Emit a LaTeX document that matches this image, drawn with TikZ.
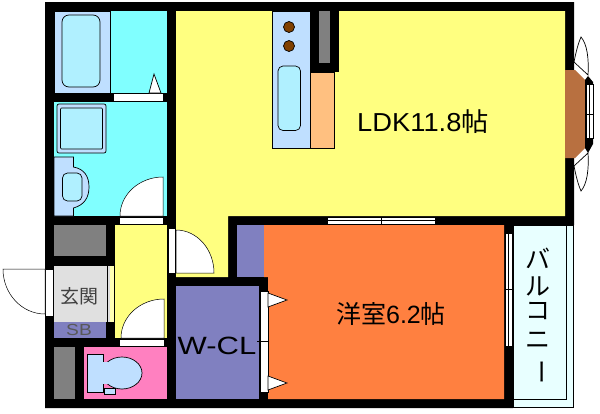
\documentclass[tikz,border=0pt]{standalone}
\usepackage{fontspec}
\setmainfont{Liberation Sans}
\newfontfamily\cjk{Noto Sans CJK JP}
\definecolor{wet}{HTML}{80FFFF}
\definecolor{fix}{HTML}{BFDFFF}
\definecolor{basin}{HTML}{B0F0FF}
\definecolor{ldk}{HTML}{FFFF80}
\definecolor{plum}{HTML}{8080C0}
\definecolor{west}{HTML}{FF8040}
\definecolor{rest}{HTML}{FF80C0}
\definecolor{hall}{HTML}{E0E0E0}
\definecolor{cab}{HTML}{808080}
\definecolor{counter}{HTML}{FFC080}
\definecolor{bay}{HTML}{B87040}
\definecolor{balc}{HTML}{E8FFFF}
\definecolor{burner}{HTML}{804000}
\tikzset{
  x=1pt,y=-1pt,
  thin line/.style={draw=black,line width=0.7pt},
  fixture/.style={fill=#1,draw=black,line width=0.7pt},
  opening/.style={fill=white,draw=black,line width=0.5pt},
  label/.style={inner sep=0pt,text=black},
  kana/.style={label,font=\fontsize{25}{25}\selectfont\cjk}
}
\begin{document}
\begin{tikzpicture}
\useasboundingbox (0,0) rectangle (600,413);
\fill[white] (0,0) rectangle (600,413);
% balcony
\path[fixture=balc] (513,225) rectangle (573,407);
\draw[thin line] (513,399) -- (566,399) -- (566,225);
% walls
\fill[black] (45,2) -| (574,225) -- (513,225) -- (513,408) -- (45,408) -- cycle;
% rooms
\fill[wet] (54,11) rectangle (167,93);
\fill[wet] (54,102) rectangle (167,216);
\fill[ldk] (176,11) -- (565,11) -- (565,216) -- (228,216) -- (228,277) -- (176,277) -- cycle;
\fill[ldk] (115,225) rectangle (167,338);
\fill[plum] (237,225) rectangle (264,277);
\fill[west] (264,225) -- (504,225) -- (504,399) -- (268,399) -- (268,277) -- (264,277) -- cycle;
\fill[plum] (176,286) rectangle (259,399);
\fill[cab] (54,225) rectangle (106,256);
\fill[hall] (54,266) rectangle (110,322);
\fill[ldk!60!white] (110,266) rectangle (114,322);
\draw[line width=0.7pt] (107,266) -- (107,322);
\fill[plum] (54,322) rectangle (106,338);
\fill[cab] (54,347) rectangle (75,399);
\fill[rest] (84,347) rectangle (167,399);
% bath
\path[fixture=fix] (54,11) rectangle (110,93);
\path[fixture=basin,rounded corners=7pt] (62,15) rectangle (100,87);
\fill[white] (114,94) rectangle (163,101);
\path[fixture=white] (149,93) -- (154,74) -- (161,93) -- cycle;
% washroom
\path[fixture=fix,rounded corners=2pt] (57,104) rectangle (106,153);
\path[fixture=basin,rounded corners=1pt] (60.5,108) rectangle (102.5,149);
\path[fixture=fix] (54,157) -- (73.5,157) -- (73.5,167) .. controls (84,169) and (89,176) .. (89,187) .. controls (89,198) and (84,205) .. (73.5,208) -- (73.5,216) -- (54,216) -- cycle;
\path[fixture=basin,rounded corners=5pt] (62.5,173) rectangle (82,201);
\path[opening] (163,216) -- (120,216) arc[start angle=180,end angle=90,x radius=43,y radius=-39] -- cycle;
\path[opening] (119,217) rectangle (163,224);
% LDK door
\path[opening] (168,228) rectangle (175,273);
\path[opening] (176,273) -- (176,230) arc[start angle=90,end angle=0,x radius=38,y radius=-43] -- cycle;
% entrance door
\path[opening] (45.5,269) rectangle (53,316);
\path[opening] (45,269) -- (3,269) arc[start angle=180,end angle=270,x radius=42,y radius=-45] -- cycle;
% toilet door
\path[opening] (121,338) arc[start angle=180,end angle=90,x radius=43,y radius=-39] -- (164,338) -- cycle;
\path[opening] (119,339) rectangle (164,346);
% toilet
\path[fixture=fix] (122,373) ellipse[x radius=20,y radius=16];
\path[fixture=fix] (87.5,354.5) rectangle (103.5,392.5);
\fill[fix] (102,362) rectangle (108,384);
\path[fixture=fix] (104.5,388) rectangle (115.5,394.5);
% W-CL doors
\path[opening] (260,291) rectangle (268,392);
\draw[line width=0.6pt] (257,341.5) -- (268,341.5);
\path[fixture=white] (268,293) -- (287,300) -- (268,307) -- cycle;
\path[fixture=white] (268,376) -- (287,383) -- (268,390) -- cycle;
% kitchen
\path[fixture=fix] (272.5,11) rectangle (310,148);
\path[fixture=counter] (310,72) rectangle (334.5,148);
\fill[black] (310,11) rectangle (339,71.5);
\fill[cab] (319,11) rectangle (330,63);
\path[fixture=burner] (289,27) circle[radius=5.5];
\path[fixture=burner] (289,46) circle[radius=5.5];
\path[fixture=basin,rounded corners=5pt] (278,66) rectangle (300.5,130.5);
% sliding windows
\path[opening] (327,217) rectangle (435,224);
\draw[line width=0.6pt] (327,220.5) -- (435,220.5);
\draw[line width=0.6pt] (381,217) -- (381,224);
\path[opening] (505,233) rectangle (512,346);
\draw[line width=0.6pt] (508.5,233) -- (508.5,346);
\draw[line width=0.6pt] (505,289) -- (512,289);
% bay window
\fill[bay] (565,70) -- (575,70) -- (585,80) -- (585,148) -- (575,158) -- (565,158) -- cycle;
\fill[black] (585,80) -- (588,76) -- (593,82) -- (593,84) -- (586,84) -- (586,138) -- (593,138) -- (593,144) -- (588,153) -- (585,148) -- cycle;
\path[opening] (586,84) rectangle (593,138);
\draw[line width=0.6pt] (589.5,84) -- (589.5,138);
\draw[line width=0.6pt] (585,114) -- (594,114);
\draw[thin line] (574,62) .. controls (576,52) and (578,44) .. (581,37) .. controls (587,44) and (589,58) .. (588,75) -- cycle;
\draw[thin line] (574,166) .. controls (576,176) and (578,184) .. (581,191) .. controls (587,184) and (589,170) .. (588,153) -- cycle;
% labels
\node[label,font=\fontsize{26}{26}\selectfont,xscale=1.05] (l1) at (423,122) {LDK11.8{\cjk 帖}};
\node[label,font=\fontsize{25}{25}\selectfont] (l2) at (391,314) {{\cjk 洋室}6.2{\cjk 帖}};
\node[label,font=\fontsize{25}{25}\selectfont,xscale=1.24] (l3) at (217,346) {W-CL};
\node[label,font=\fontsize{19}{19}\selectfont,text=black!75] (l4) at (79,296) {\cjk 玄関};
\node[label,font=\fontsize{16}{16}\selectfont,xscale=1.2,text=black!65] (l5) at (79,330) {SB};
\node[kana] (b1) at (538,258) {バ};
\node[kana] (b2) at (538,286) {ル};
\node[kana] (b3) at (538,311) {コ};
\node[kana] (b4) at (538,340) {ニ};
\node[kana,rotate=-90] (b5) at (537.5,371.5) {ー};
\end{tikzpicture}
\end{document}
